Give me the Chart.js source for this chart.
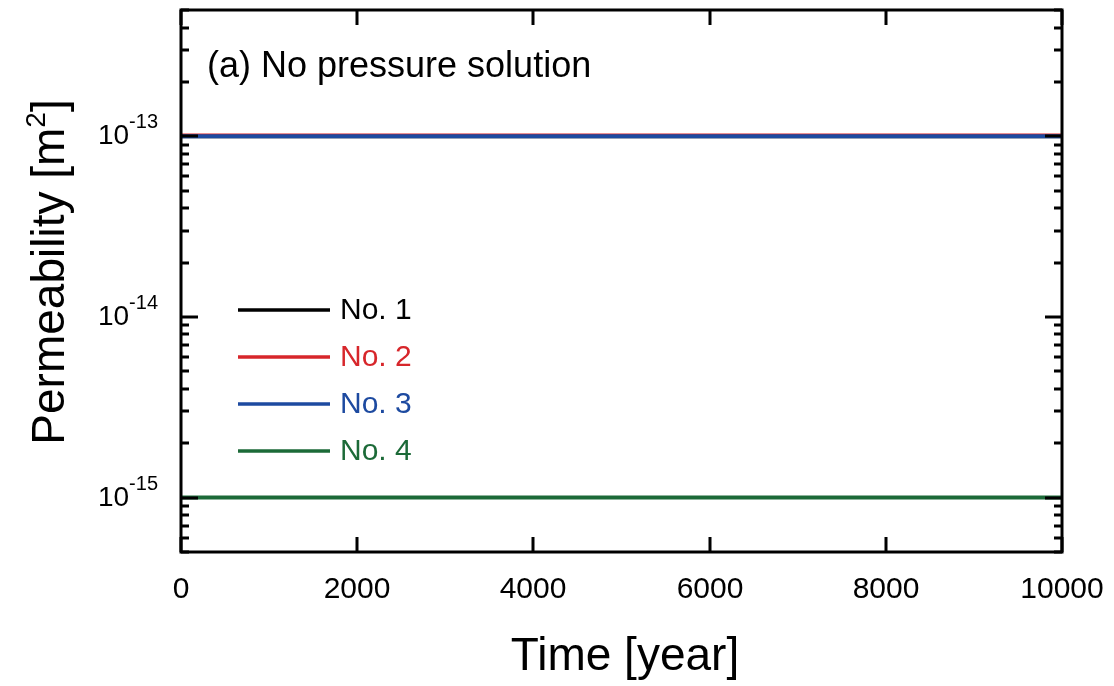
<!DOCTYPE html>
<html>
<head>
<meta charset="utf-8">
<script src="https://cdn.jsdelivr.net/npm/chart.js@4.4.0/dist/chart.umd.min.js"></script>
<style>
html,body{margin:0;padding:0;background:#fff;}
#wrap{width:1114px;height:686px;position:relative;}
</style>
</head>
<body>
<div id="wrap"><canvas id="c" width="1114" height="686"></canvas></div>
<script>
// ---- data ----
const years = [0, 10000];
const seriesNames = ['No. 1', 'No. 2', 'No. 3', 'No. 4'];
const no1 = [1e-13, 1e-13];
const no2 = [1.01e-13, 1.01e-13];
const no3 = [1e-13, 1e-13];
const no4 = [1e-15, 1e-15];
const seriesColors = ['#000000', '#d7262b', '#1d4aa0', '#1c6a38'];
const xTicks = [0, 2000, 4000, 6000, 8000, 10000];
const xTickLabels = ['0', '2000', '4000', '6000', '8000', '10000'];
const yMajorTicks = [1e-15, 1e-14, 1e-13];
const yTickExponents = ['-15', '-14', '-13'];
const yMin = 5e-16, yMax = 5e-13;

const FONT = '"Liberation Sans", Arial, Helvetica, sans-serif';

const decorPlugin = {
  id: 'decor',
  afterDatasetsDraw(chart) {
    const ctx = chart.ctx;
    const a = chart.chartArea;
    const xs = chart.scales.x, ys = chart.scales.y;
    ctx.save();
    ctx.strokeStyle = '#000';
    ctx.fillStyle = '#000';
    // frame
    ctx.lineWidth = 3;
    ctx.strokeRect(a.left, a.top, a.right - a.left, a.bottom - a.top);
    // x ticks (inward, top and bottom)
    ctx.lineWidth = 3;
    const xMajorLen = 15;
    xTicks.forEach((v, i) => {
      const px = Math.round(xs.getPixelForValue(v));
      ctx.beginPath();
      ctx.moveTo(px, a.bottom); ctx.lineTo(px, a.bottom - xMajorLen);
      ctx.moveTo(px, a.top); ctx.lineTo(px, a.top + xMajorLen);
      ctx.stroke();
      ctx.font = '30px ' + FONT;
      ctx.textAlign = 'center';
      ctx.textBaseline = 'alphabetic';
      ctx.fillText(xTickLabels[i], px, 598);
    });
    // y ticks (inward, left and right)
    const yMajorLen = 17, yMinorLen = 8;
    const eMin = Math.floor(Math.log10(yMin)), eMax = Math.ceil(Math.log10(yMax));
    for (let e = eMin; e <= eMax; e++) {
      for (let k = 1; k <= 9; k++) {
        const v = k * Math.pow(10, e);
        if (v < yMin * 0.999 || v > yMax * 1.001) continue;
        const py = Math.round(ys.getPixelForValue(v));
        const len = k === 1 ? yMajorLen : yMinorLen;
        ctx.beginPath();
        ctx.moveTo(a.left, py); ctx.lineTo(a.left + len, py);
        ctx.moveTo(a.right, py); ctx.lineTo(a.right - len, py);
        ctx.stroke();
      }
    }
    yMajorTicks.forEach((v, i) => {
      const py = ys.getPixelForValue(v);
      ctx.textAlign = 'left';
      ctx.textBaseline = 'alphabetic';
      ctx.font = '20px ' + FONT;
      const supW = ctx.measureText(yTickExponents[i]).width;
      ctx.font = '28px ' + FONT;
      const baseW = ctx.measureText('10').width;
      const right = 158;
      ctx.fillText('10', right - supW - baseW, py + 8);
      ctx.font = '20px ' + FONT;
      ctx.fillText(yTickExponents[i], right - supW, py - 8);
    });
    // axis titles
    ctx.textAlign = 'center';
    ctx.textBaseline = 'alphabetic';
    ctx.font = '46px ' + FONT;
    ctx.fillText('Time [year]', 625, 670);
    // y title rotated
    ctx.save();
    ctx.translate(64, 272);
    ctx.rotate(-Math.PI / 2);
    ctx.font = '46px ' + FONT;
    const p1 = 'Permeability [m';
    const w1 = ctx.measureText(p1).width;
    ctx.font = '28px ' + FONT;
    const w2 = ctx.measureText('2').width;
    ctx.font = '46px ' + FONT;
    const w3 = ctx.measureText(']').width;
    const tot = w1 + w2 + w3;
    let x0 = -tot / 2;
    ctx.textAlign = 'left';
    ctx.fillText(p1, x0, 0);
    ctx.font = '28px ' + FONT;
    ctx.fillText('2', x0 + w1, -19);
    ctx.font = '46px ' + FONT;
    ctx.fillText(']', x0 + w1 + w2, 0);
    ctx.restore();
    // panel title
    ctx.textAlign = 'left';
    ctx.font = '36px ' + FONT;
    ctx.fillText('(a) No pressure solution', 207, 77);
    // legend
    chart.data.datasets.forEach((ds, i) => {
      const ly = 310 + i * 47;
      ctx.strokeStyle = ds.borderColor;
      ctx.lineWidth = 3.5;
      ctx.beginPath();
      ctx.moveTo(238, ly); ctx.lineTo(330, ly);
      ctx.stroke();
      ctx.fillStyle = ds.borderColor;
      ctx.font = '30px ' + FONT;
      ctx.textBaseline = 'middle';
      ctx.fillText(ds.label, 340, ly + 1);
    });
    ctx.restore();
  }
};

const seriesData = [no1, no2, no3, no4];
const drawOrder = [3, 2, 1, 0];
new Chart(document.getElementById('c'), {
  type: 'line',
  data: {
    datasets: seriesData.map((arr, i) => ({
      label: seriesNames[i],
      data: years.map((x, j) => ({ x: x, y: arr[j] })),
      borderColor: seriesColors[i],
      backgroundColor: seriesColors[i],
      borderWidth: 4,
      pointRadius: 0,
      tension: 0,
      fill: false,
      order: drawOrder[i]
    }))
  },
  options: {
    responsive: false,
    animation: false,
    layout: { padding: { left: 181, right: 52, top: 10, bottom: 134 } },
    plugins: { legend: { display: false }, tooltip: { enabled: false } },
    scales: {
      x: { type: 'linear', min: 0, max: 10000, display: false },
      y: { type: 'logarithmic', min: yMin, max: yMax, display: false }
    }
  },
  plugins: [decorPlugin]
});
</script>
</body>
</html>
